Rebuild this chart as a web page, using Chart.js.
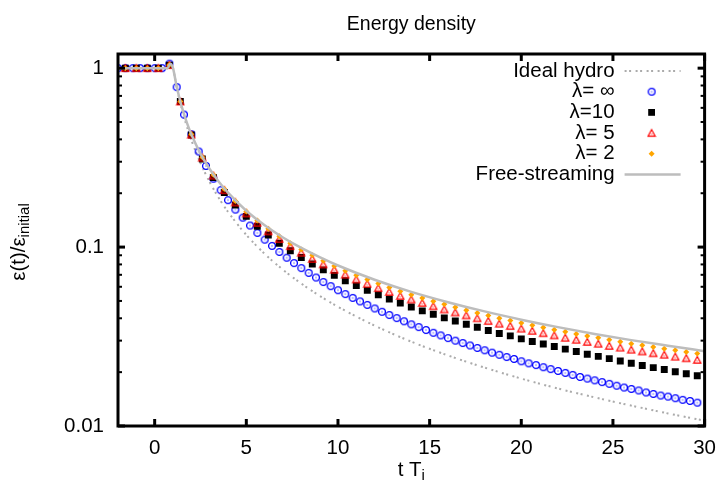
<!DOCTYPE html>
<html><head><meta charset="utf-8">
<script src="https://cdn.jsdelivr.net/npm/chart.js@4.4.1/dist/chart.umd.min.js"></script>
<style>html,body{margin:0;padding:0;background:#fff}#wrap{width:726px;height:486px}</style>
</head><body><div id="wrap"><canvas id="c" width="726" height="486"></canvas></div>
<script>
// ---------- data ----------
const xTickValues = [0, 5, 10, 15, 20, 25, 30];
const xTickLabels = ['0', '5', '10', '15', '20', '25', '30'];
const yTickValues = [0.01, 0.1, 1];
const yTickLabels = ['0.01', '0.1', '1'];
const yMinorTicks = [0.02,0.03,0.04,0.05,0.06,0.07,0.08,0.09,0.2,0.3,0.4,0.5,0.6,0.7,0.8,0.9];

const seriesLabels = ['Ideal hydro', 'λ= ∞', 'λ=10', 'λ= 5', 'λ= 2', 'Free-streaming'];

// continuous curves
const xLine = [-2, 0.7, 0.85, 1.0, 1.2, 1.4, 1.6, 1.8, 2.0, 2.5, 3, 3.5, 4, 5, 6, 7, 8, 9, 10, 12, 14, 16, 18, 20, 22, 24, 26, 28, 30];
const idealHydro = [1, 1, 1.06, 1.0, 0.784, 0.639, 0.534, 0.457, 0.397, 0.295, 0.231, 0.188, 0.1575, 0.117, 0.0917, 0.0747, 0.0625, 0.0534, 0.0464, 0.0364, 0.0296, 0.0248, 0.0212, 0.0184, 0.0162, 0.01445, 0.0130, 0.01176, 0.0107];
const freeStreaming = [1, 1, 1.06, 1.0, 0.789, 0.651, 0.554, 0.482, 0.427, 0.333, 0.273, 0.232, 0.2014, 0.1597, 0.1325, 0.1132, 0.0989, 0.0878, 0.0789, 0.0657, 0.0562, 0.0492, 0.0437, 0.0393, 0.0357, 0.0327, 0.0302, 0.0281, 0.0262];

// lambda = infinity (fine time grid)
const xFine = [-2.0,-1.6,-1.2,-0.8,-0.4,0.0,0.4,0.8,1.2,1.6,2.0,2.4,2.8,3.2,3.6,4.0,4.4,4.8,5.2,5.6,6.0,6.4,6.8,7.2,7.6,8.0,8.4,8.8,9.2,9.6,10.0,10.4,10.8,11.2,11.6,12.0,12.4,12.8,13.2,13.6,14.0,14.4,14.8,15.2,15.6,16.0,16.4,16.8,17.2,17.6,18.0,18.4,18.8,19.2,19.6,20.0,20.4,20.8,21.2,21.6,22.0,22.4,22.8,23.2,23.6,24.0,24.4,24.8,25.2,25.6,26.0,26.4,26.8,27.2,27.6,28.0,28.4,28.8,29.2,29.6];
const lamInf = [1,1,1,1,1,1,1,1.06,0.784,0.550,0.427,0.342,0.284,0.241,0.208,0.183,0.162,0.146,0.132,0.120,0.110,0.1015,0.0939,0.0872,0.0814,0.0763,0.0717,0.0676,0.0638,0.0605,0.0574,0.0546,0.0520,0.0497,0.0475,0.0454,0.0435,0.0417,0.0401,0.0385,0.0370,0.0357,0.0344,0.0332,0.0321,0.0310,0.0300,0.0291,0.0282,0.0273,0.0265,0.0257,0.0250,0.0243,0.0237,0.0230,0.0224,0.0219,0.0213,0.0208,0.0203,0.0198,0.0193,0.0188,0.0184,0.0180,0.0176,0.0172,0.0168,0.0164,0.0161,0.0158,0.0154,0.0151,0.0148,0.0146,0.0143,0.0140,0.0138,0.0135];

// finite lambda (coarse time grid)
const xCoarse = [-1.6,-1.0,-0.4,0.2,0.8,1.4,2.0,2.6,3.2,3.8,4.4,5.0,5.6,6.2,6.8,7.4,8.0,8.6,9.2,9.8,10.4,11.0,11.6,12.2,12.8,13.4,14.0,14.6,15.2,15.8,16.4,17.0,17.6,18.2,18.8,19.4,20.0,20.6,21.2,21.8,22.4,23.0,23.6,24.2,24.8,25.4,26.0,26.6,27.2,27.8,28.4,29.0,29.6];
const lam10 = [1,1,1,1,1.04,0.651,0.423,0.311,0.245,0.202,0.1717,0.1485,0.1309,0.1168,0.1050,0.0955,0.0874,0.0805,0.0746,0.0695,0.0649,0.0609,0.0573,0.0541,0.0513,0.0486,0.0462,0.0440,0.0421,0.0402,0.0386,0.0370,0.0356,0.0342,0.0329,0.0319,0.0307,0.0297,0.0287,0.0278,0.0269,0.0261,0.0252,0.0245,0.0238,0.0231,0.0224,0.0218,0.0212,0.0207,0.0201,0.0196,0.0191];
const lam5 = [1,1,1,1,1.04,0.651,0.425,0.316,0.251,0.208,0.1776,0.1543,0.1366,0.1225,0.1109,0.1012,0.0930,0.0859,0.0800,0.0747,0.0701,0.0659,0.0623,0.0590,0.0561,0.0533,0.0509,0.0487,0.0467,0.0448,0.0431,0.0415,0.0400,0.0386,0.0373,0.0362,0.0350,0.0340,0.0330,0.0321,0.0311,0.0303,0.0295,0.0288,0.0280,0.0274,0.0267,0.0261,0.0255,0.0250,0.0244,0.0239,0.0234];
const lam2 = [1,1,1,1,1.04,0.651,0.427,0.318,0.254,0.211,0.181,0.1581,0.1406,0.1265,0.1148,0.1052,0.0969,0.0899,0.0838,0.0785,0.0738,0.0695,0.0658,0.0625,0.0595,0.0567,0.0542,0.0519,0.0498,0.0479,0.0461,0.0444,0.0428,0.0414,0.0400,0.0389,0.0376,0.0366,0.0355,0.0345,0.0336,0.0327,0.0318,0.0311,0.0303,0.0296,0.0288,0.0283,0.0276,0.0270,0.0265,0.0259,0.0254];

// ---------- styling ----------
const FONT = "'Liberation Sans', Arial, Helvetica, sans-serif";
const FS = 20.5;
const GRAY = '#bdbdbd', DOTGRAY = '#ababab';
const BLUE = '#0000ff', RED = '#ff0000', ORANGE = '#ffa500';

function pts(xs, ys) { return xs.map((x, i) => ({ x: x, y: ys[i] })); }

const circleImg = (() => {
  const c = document.createElement('canvas'); c.width = 10; c.height = 10;
  const g = c.getContext('2d');
  g.strokeStyle = BLUE; g.lineWidth = 1.3;
  g.beginPath(); g.arc(5, 5, 3.4, 0, Math.PI * 2); g.stroke();
  g.fillStyle = BLUE; g.fillRect(4.5, 4.5, 1, 1);
  return c;
})();
const triImg = (() => {
  const c = document.createElement('canvas'); c.width = 10; c.height = 10;
  const g = c.getContext('2d');
  g.strokeStyle = RED; g.lineWidth = 1.2;
  g.beginPath(); g.moveTo(5, 1.5); g.lineTo(8.6, 8.2); g.lineTo(1.4, 8.2); g.closePath(); g.stroke();
  g.fillStyle = RED; g.fillRect(4.5, 5.5, 1, 1);
  return c;
})();

function line(ctx, x1, y1, x2, y2) { ctx.beginPath(); ctx.moveTo(x1, y1); ctx.lineTo(x2, y2); ctx.stroke(); }

const deco = {
  id: 'deco',
  afterDatasetsDraw(chart) {
    const ctx = chart.ctx, a = chart.chartArea, xs = chart.scales.x, ys = chart.scales.y;
    ctx.save();
    // frame
    ctx.strokeStyle = '#000'; ctx.lineWidth = 3;
    ctx.strokeRect(a.left, a.top, a.right - a.left, a.bottom - a.top);
    // major ticks (inward, mirrored)
    ctx.lineWidth = 3;
    xTickValues.forEach(v => { const p = xs.getPixelForValue(v); line(ctx, p, a.bottom, p, a.bottom - 7); line(ctx, p, a.top, p, a.top + 7); });
    yTickValues.forEach(v => { const p = ys.getPixelForValue(v); line(ctx, a.left, p, a.left + 7, p); line(ctx, a.right, p, a.right - 7, p); });
    ctx.lineWidth = 2;
    yMinorTicks.forEach(v => { const p = ys.getPixelForValue(v); line(ctx, a.left, p, a.left + 4, p); line(ctx, a.right, p, a.right - 4, p); });

    // legend
    const tx = a.right - 90, sx1 = a.right - 80, sx2 = a.right - 24, mx = a.right - 53;
    const y0 = a.top + 17, dy = 20.7;
    ctx.font = FS + 'px ' + FONT; ctx.fillStyle = '#000';
    ctx.textAlign = 'right'; ctx.textBaseline = 'middle';
    seriesLabels.forEach((t, i) => ctx.fillText(t, tx, y0 + i * dy));
    // samples
    ctx.strokeStyle = DOTGRAY; ctx.lineWidth = 2; ctx.setLineDash([2, 2.5, 2, 4.5]);
    line(ctx, sx1, y0, sx2, y0);
    ctx.setLineDash([]);
    ctx.drawImage(circleImg, mx - 5, y0 + dy - 5);
    ctx.fillStyle = '#000'; ctx.fillRect(mx - 3.4, y0 + 2 * dy - 3.4, 6.8, 6.8);
    ctx.drawImage(triImg, mx - 5, y0 + 3 * dy - 5);
    ctx.fillStyle = ORANGE; ctx.beginPath();
    const oy = y0 + 4 * dy; ctx.moveTo(mx, oy - 3); ctx.lineTo(mx + 3, oy); ctx.lineTo(mx, oy + 3); ctx.lineTo(mx - 3, oy); ctx.closePath(); ctx.fill();
    ctx.strokeStyle = GRAY; ctx.lineWidth = 2.5;
    line(ctx, sx1, y0 + 5 * dy, sx2, y0 + 5 * dy);

    // axis titles
    ctx.fillStyle = '#000'; ctx.textBaseline = 'alphabetic'; ctx.textAlign = 'left';
    const main = FS + 'px ' + FONT, sub = Math.round(FS * 0.75) + 'px ' + FONT;
    ctx.font = main; const w1 = ctx.measureText('t T').width;
    ctx.font = sub; const w2 = ctx.measureText('i').width;
    const cx = (a.left + a.right) / 2, bx = cx - (w1 + w2) / 2, by = 476;
    ctx.font = main; ctx.fillText('t T', bx, by);
    ctx.font = sub; ctx.fillText('i', bx + w1, by + 4);
    ctx.save();
    ctx.translate(25, (a.top + a.bottom) / 2 + 2);
    ctx.rotate(-Math.PI / 2);
    ctx.font = main; const m1 = ctx.measureText('ε(t)/ε').width;
    ctx.font = sub; const m2 = ctx.measureText('initial').width;
    const sx = -(m1 + m2) / 2;
    ctx.font = main; ctx.fillText('ε(t)/ε', sx, 0);
    ctx.font = sub; ctx.fillText('initial', sx + m1, 4);
    ctx.restore();
    ctx.restore();
  }
};

new Chart(document.getElementById('c'), {
  type: 'scatter',
  data: {
    datasets: [
      { label: seriesLabels[0], data: pts(xLine, idealHydro), showLine: true, borderColor: DOTGRAY, borderWidth: 2, borderDash: [2, 2.5, 2, 4.5], pointRadius: 0, cubicInterpolationMode: 'monotone', order: 6 },
      { label: seriesLabels[1], data: pts(xFine, lamInf), showLine: false, pointStyle: circleImg, pointRadius: 4, order: 5 },
      { label: seriesLabels[2], data: pts(xCoarse, lam10), showLine: false, pointStyle: 'rect', pointRadius: 4.9, backgroundColor: '#000', borderColor: '#000', borderWidth: 0, order: 4 },
      { label: seriesLabels[3], data: pts(xCoarse, lam5), showLine: false, pointStyle: triImg, pointRadius: 4, order: 3 },
      { label: seriesLabels[4], data: pts(xCoarse, lam2), showLine: false, pointStyle: 'rectRot', pointRadius: 3, backgroundColor: ORANGE, borderColor: ORANGE, borderWidth: 0, order: 2 },
      { label: seriesLabels[5], data: pts(xLine, freeStreaming), showLine: true, borderColor: GRAY, borderWidth: 2.5, pointRadius: 0, cubicInterpolationMode: 'monotone', order: 1 }
    ]
  },
  options: {
    responsive: false, animation: false, devicePixelRatio: 1, events: [],
    layout: { padding: { left: 0, right: 16, top: 0, bottom: 0 } },
    plugins: {
      legend: { display: false }, tooltip: { enabled: false },
      title: { display: true, text: 'Energy density', fullSize: false, color: '#000',
               font: { family: FONT, size: 19.5, weight: 'normal', lineHeight: 1.2 }, padding: { top: 13, bottom: 17.6 } }
    },
    scales: {
      x: {
        type: 'linear', min: -2, max: 30,
        grid: { display: false, drawTicks: false }, border: { display: false },
        afterBuildTicks: s => { s.ticks = xTickValues.map(v => ({ value: v })); },
        afterFit: s => { s.height = 60; },
        ticks: { callback: (v, i) => xTickLabels[i], color: '#000', font: { family: FONT, size: FS }, padding: 10, maxRotation: 0, autoSkip: false }
      },
      y: {
        type: 'logarithmic', min: 0.01, max: 1.2,
        grid: { display: false, drawTicks: false }, border: { display: false },
        afterBuildTicks: s => { s.ticks = yTickValues.map(v => ({ value: v })); },
        afterFit: s => { s.width = 118; },
        ticks: { callback: (v, i) => yTickLabels[i], color: '#000', font: { family: FONT, size: FS }, padding: 14, autoSkip: false }
      }
    }
  },
  plugins: [deco]
});
</script></body></html>
